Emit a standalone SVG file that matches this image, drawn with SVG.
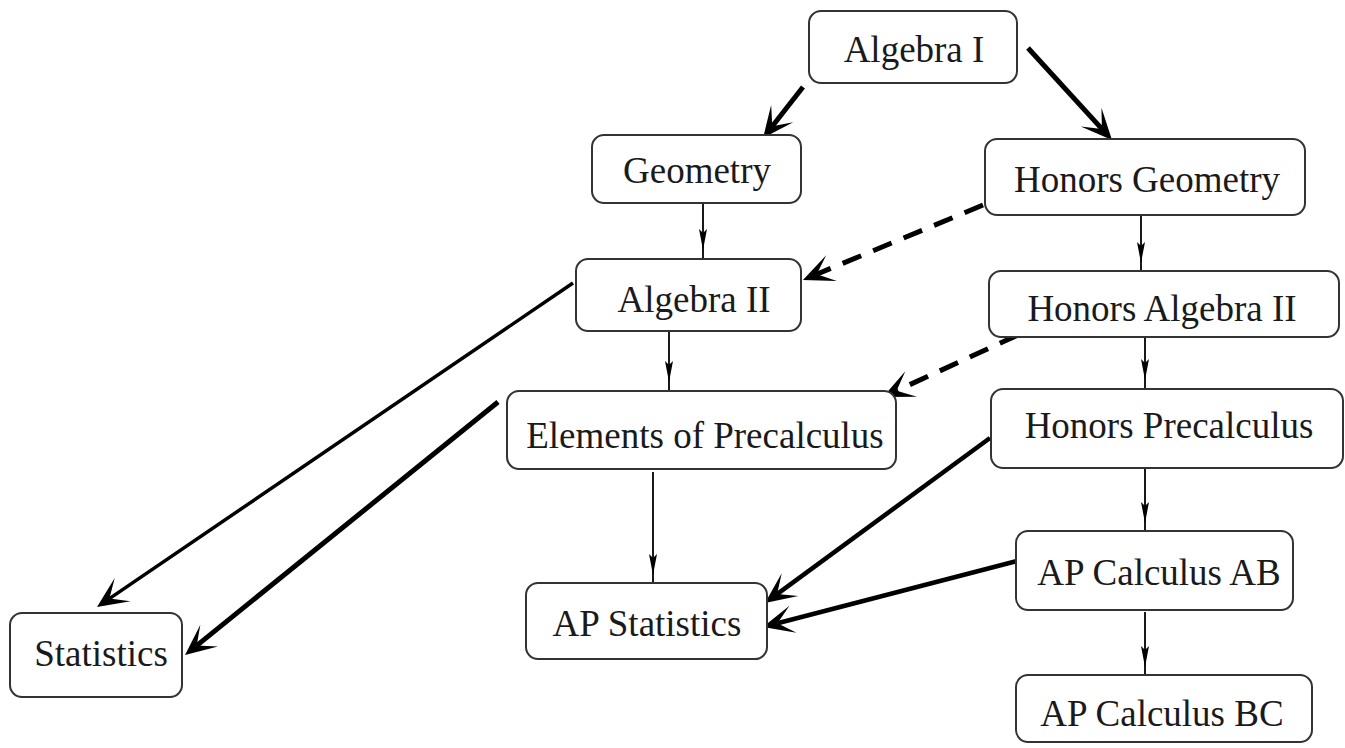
<svg xmlns="http://www.w3.org/2000/svg" width="1345" height="748" viewBox="0 0 1345 748">
<style>
.box{fill:#fff;stroke:#333;stroke-width:2}
.lbl{font-family:"Liberation Serif","Times New Roman",serif;font-size:37px;fill:#1a1a1a;text-anchor:middle}
.thick{fill:none;stroke:#000;stroke-width:5;marker-end:url(#ah)}
.med{fill:none;stroke:#000;stroke-width:3.5;marker-end:url(#ah)}
.dash{fill:none;stroke:#000;stroke-width:5;stroke-dasharray:20 13;marker-end:url(#ah)}
.thin{fill:none;stroke:#000;stroke-width:1.8;marker-mid:url(#sm)}
</style>
<defs>
<marker id="ah" markerUnits="userSpaceOnUse" viewBox="-20 -15 40 30" refX="0" refY="0" markerWidth="40" markerHeight="30" orient="auto" overflow="visible">
<path d="M15,0 L-16,-14 L0,0 L-16,14 Z" fill="#000"/>
</marker>
<marker id="sm" markerUnits="userSpaceOnUse" viewBox="-25 -6 30 12" refX="0" refY="0" markerWidth="30" markerHeight="12" orient="auto" overflow="visible">
<path d="M0,0 L-21,-4 L-17,0 L-21,4 Z" fill="#000"/>
</marker>
</defs>
<g id="connectors">
<line class="thick" x1="803" y1="87" x2="772.3" y2="126.2"/>
<line class="thick" x1="1028" y1="48" x2="1101.9" y2="128.9"/>
<line class="dash" x1="983" y1="205" x2="816.8" y2="274.2"/>
<line class="dash" x1="1018" y1="335" x2="896.6" y2="390.7"/>
<line class="med" x1="573" y1="283" x2="109.4" y2="598.6"/>
<line class="thick" x1="498" y1="402" x2="196.7" y2="645.6"/>
<line class="thick" style="stroke-width:4.5" x1="990" y1="438" x2="777.1" y2="594.1"/>
<line class="thick" style="stroke-width:4.5" x1="1017" y1="561" x2="777.5" y2="623.3"/>
<polyline class="thin" points="703,203 703,250 703,259"/>
<polyline class="thin" points="1141,207 1141,263 1141,271"/>
<polyline class="thin" points="669,331 669,382 669,391"/>
<polyline class="thin" points="1145,330 1145,380 1145,389"/>
<polyline class="thin" points="653,472 653,575 653,583"/>
<polyline class="thin" points="1145,467 1145,523 1145,531"/>
<polyline class="thin" points="1145,612 1145,667 1145,675"/>
</g>
<g id="algebra1"><rect class="box" x="809" y="11" width="208" height="72" rx="12"/><text class="lbl" x="914" y="62">Algebra I</text></g>
<g id="geometry"><rect class="box" x="592" y="135" width="209" height="68" rx="12"/><text class="lbl" x="697" y="183">Geometry</text></g>
<g id="honors-geometry"><rect class="box" x="985" y="139" width="320" height="76" rx="12"/><text class="lbl" x="1147" y="192">Honors Geometry</text></g>
<g id="algebra2"><rect class="box" x="576" y="259" width="225" height="72" rx="12"/><text class="lbl" x="694" y="312">Algebra II</text></g>
<g id="honors-algebra2"><rect class="box" x="989" y="271" width="350" height="66" rx="12"/><text class="lbl" x="1162" y="321">Honors Algebra II</text></g>
<g id="elements-precalc"><rect class="box" x="507" y="391" width="389" height="78" rx="12"/><text class="lbl" x="705" y="448">Elements of Precalculus</text></g>
<g id="honors-precalc"><rect class="box" x="991" y="389" width="352" height="79" rx="12"/><text class="lbl" x="1169" y="438">Honors Precalculus</text></g>
<g id="ap-calc-ab"><rect class="box" x="1016" y="531" width="277" height="79" rx="12"/><text class="lbl" x="1159" y="585">AP Calculus AB</text></g>
<g id="ap-statistics"><rect class="box" x="526" y="583" width="241" height="76" rx="12"/><text class="lbl" x="647" y="636">AP Statistics</text></g>
<g id="statistics"><rect class="box" x="10" y="613" width="172" height="84" rx="12"/><text class="lbl" x="101" y="666">Statistics</text></g>
<g id="ap-calc-bc"><rect class="box" x="1016" y="675" width="296" height="67" rx="12"/><text class="lbl" x="1162" y="726">AP Calculus BC</text></g>
</svg>
